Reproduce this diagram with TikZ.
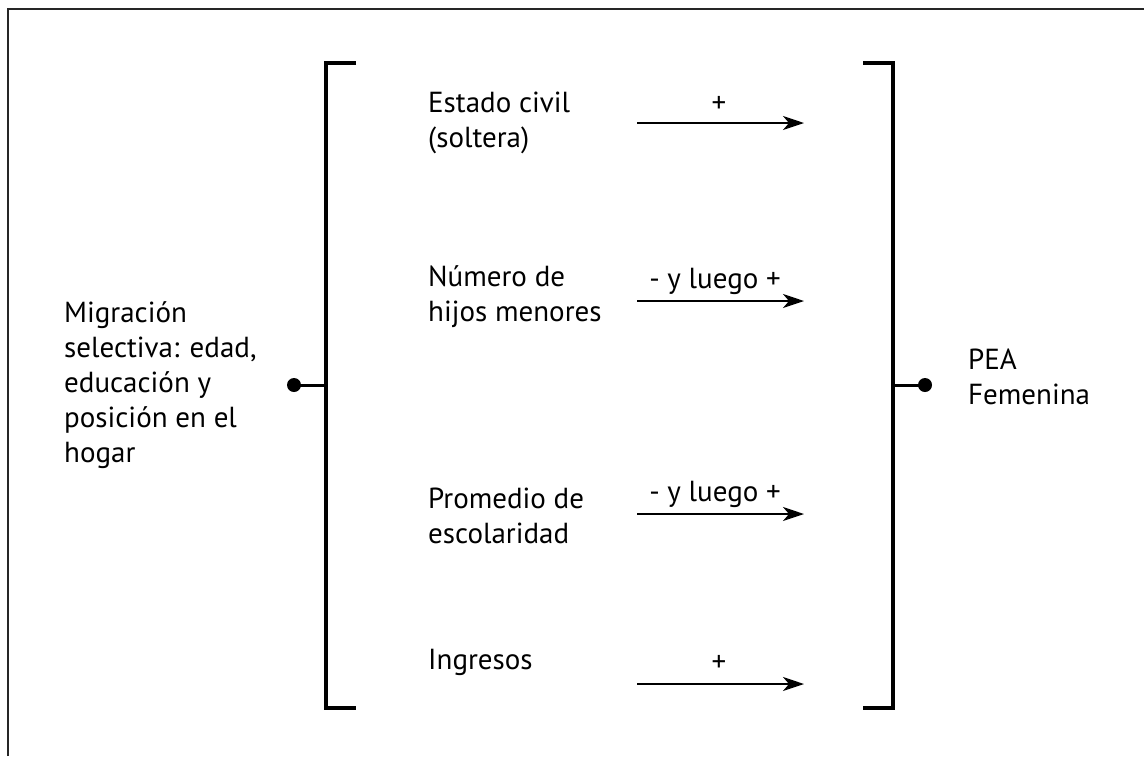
\documentclass[tikz,border=0pt]{standalone}
\usepackage{fontspec}
\setmainfont{PT Sans}
\usetikzlibrary{arrows.meta}
\begin{document}
\begin{tikzpicture}[x=1pt,y=-1pt,
  txt/.style={anchor=base west,inner sep=0pt,align=left,font=\fontsize{29}{35}\selectfont},
  lbl/.style={anchor=base,inner sep=0pt,font=\fontsize{29}{35}\selectfont},
  bracket/.style={line width=3.5pt,line cap=butt,line join=miter},
  conn/.style={line width=3pt},
  arr/.style={line width=2pt,-{Stealth[length=21pt,width=14pt,inset=6pt]}},
  dotfill/.style={fill=black}]
\useasboundingbox (0,0) rectangle (1144,756);
% frame (only top and left edges visible)
\draw[line width=2.2pt,black!85] (8,756) -- (8,9) -- (1144,9);
% brackets
\draw[bracket] (356,63) -- (326,63) -- (326,708) -- (356,708);
\draw[bracket] (863,63) -- (893,63) -- (893,708) -- (863,708);
% dots and connectors
\coordinate (ldot) at (294,385);
\coordinate (lbr) at (326,385);
\coordinate (rbr) at (893,385);
\coordinate (rdot) at (925,385);
\draw[conn] (ldot) -- (lbr);
\draw[conn] (rbr) -- (rdot);
\fill[dotfill] (ldot) circle (7);
\fill[dotfill] (rdot) circle (7);
% left and right texts (anchored at the baseline of the last line)
\node[txt] (mig) at (64,462) {Migración\\selectiva: edad,\\educación y\\posición en el\\hogar};
\node[txt] (pea) at (968,404) {PEA\\Femenina};
% middle texts
\node[txt] (est) at (428,147) {Estado civil\\(soltera)};
\node[txt] (num) at (428,321) {Número de\\hijos menores};
\node[txt] (pro) at (428,543) {Promedio de\\escolaridad};
\node[txt] (ing) at (428,669) {Ingresos};
% arrows
\coordinate (a1s) at (637,123); \coordinate (a1e) at (804,123);
\coordinate (a2s) at (637,301); \coordinate (a2e) at (804,301);
\coordinate (a3s) at (637,514); \coordinate (a3e) at (804,514);
\coordinate (a4s) at (637,684); \coordinate (a4e) at (804,684);
\draw[arr] (a1s) -- (a1e);
\draw[arr] (a2s) -- (a2e);
\draw[arr] (a3s) -- (a3e);
\draw[arr] (a4s) -- (a4e);
\node[lbl] (l1) at (719,112) {+};
\node[lbl] (l2) at (715,288) {- y luego +};
\node[lbl] (l3) at (715,501) {- y luego +};
\node[lbl] (l4) at (719,671) {+};
\end{tikzpicture}
\end{document}
